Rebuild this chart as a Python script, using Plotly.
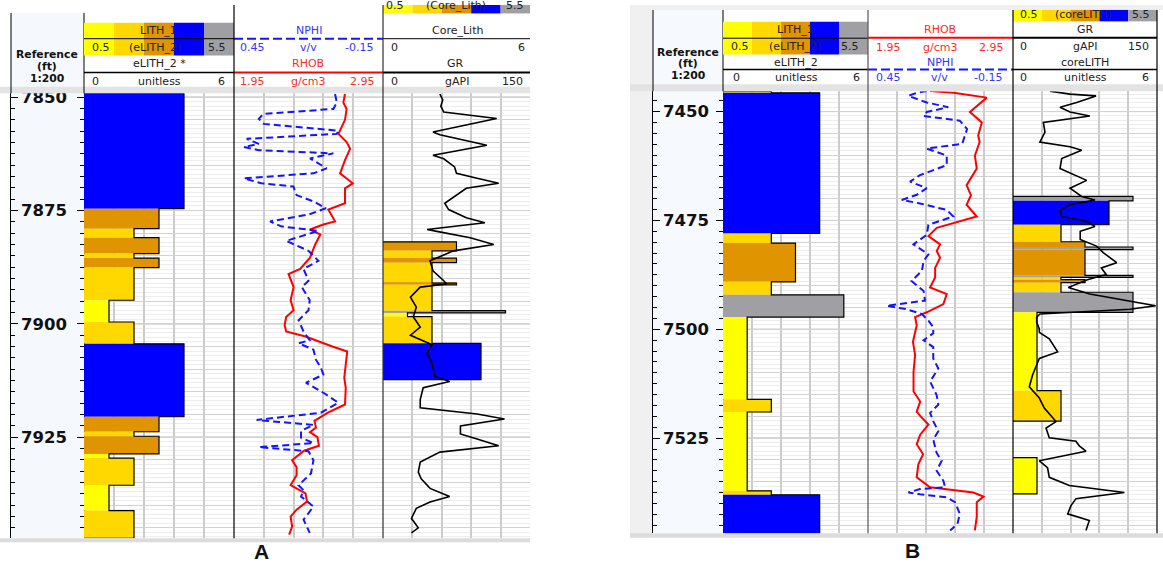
import plotly.graph_objects as go

W, H = 1163, 568

# ---------------- DATA ----------------
lith_codes = [1, 2, 3, 4, 5]
lith_colors = {1: '#ffff00', 2: '#ffd800', 3: '#e09400', 4: '#0000ff', 5: '#a0a0a4'}

# Panel A (depth ft)
A_depth_top, A_depth_base = 7849.13, 7947.3
A_depth_ticks = [7850, 7875, 7900, 7925]

A_elith_tops = [7849.1, 7874.6, 7879.0, 7881.0, 7884.5, 7885.5, 7887.6, 7894.8, 7899.6,
                7904.4, 7920.5, 7923.8, 7924.8, 7928.7, 7929.6, 7935.6, 7941.2]
A_elith_codes = [4, 3, 2, 3, 2, 3, 2, 1, 2, 4, 3, 2, 3, 1, 2, 1, 2]
A_elith_base = 7947.3

A_core_tops = [7881.9, 7883.9, 7885.5, 7886.5, 7891.0, 7891.4, 7897.1, 7897.6, 7898.4, 7904.3]
A_core_bases = [7883.9, 7885.5, 7886.5, 7891.0, 7891.4, 7897.1, 7897.6, 7898.4, 7904.3, 7912.3]
A_core_codes = [3, 2, 3, 2, 3, 2, 5, 1, 2, 4]

A_gr = [(7849.3, 58), (7850.6, 61), (7852.0, 59), (7853.3, 62), (7854.7, 116), (7857.7, 51),
        (7858.3, 58), (7859.9, 92), (7860.6, 106), (7862.8, 51), (7863.6, 62), (7865.4, 73),
        (7866.8, 75), (7867.9, 96), (7869.0, 118), (7870.1, 85), (7873.4, 63), (7874.8, 67),
        (7876.6, 85), (7877.7, 104), (7879.2, 45), (7879.6, 55), (7881.0, 89), (7882.5, 113),
        (7883.9, 72), (7886.1, 48), (7888.3, 51), (7890.5, 62), (7891.2, 65), (7891.9, 38),
        (7894.1, 28), (7896.3, 34), (7898.5, 31), (7900.7, 38), (7902.5, 28), (7904.6, 50),
        (7906.5, 45), (7908.7, 50), (7911.6, 53), (7912.7, 68), (7914.1, 41), (7916.7, 38),
        (7918.5, 38), (7919.9, 96), (7921.0, 124), (7922.5, 79), (7924.3, 79), (7925.4, 96),
        (7926.9, 118), (7928.3, 58), (7930.5, 38), (7932.7, 36), (7934.2, 39), (7936.3, 48),
        (7938.1, 68), (7939.3, 48), (7940.7, 34), (7942.9, 29), (7945.0, 36), (7946.1, 29)]

A_rhob = [(7849.3, 2.695), (7851.2, 2.684), (7852.6, 2.706), (7855.0, 2.695), (7858.1, 2.651),
          (7859.9, 2.706), (7861.4, 2.729), (7863.9, 2.695), (7866.8, 2.662), (7869.0, 2.747),
          (7870.1, 2.695), (7873.4, 2.695), (7874.8, 2.583), (7877.4, 2.628), (7878.1, 2.55),
          (7879.2, 2.46), (7880.3, 2.53), (7882.5, 2.495), (7885.4, 2.46), (7887.9, 2.394),
          (7889.0, 2.316), (7891.9, 2.35), (7894.8, 2.33), (7897.0, 2.35), (7898.5, 2.30),
          (7900.3, 2.29), (7901.7, 2.30), (7902.8, 2.43), (7905.0, 2.61), (7906.1, 2.71),
          (7909.0, 2.70), (7911.9, 2.69), (7914.1, 2.70), (7917.8, 2.695), (7919.6, 2.58),
          (7921.4, 2.49), (7922.9, 2.50), (7923.9, 2.46), (7925.0, 2.51), (7926.9, 2.52),
          (7928.0, 2.42), (7930.1, 2.34), (7931.6, 2.37), (7933.4, 2.37), (7935.6, 2.33),
          (7937.4, 2.43), (7939.2, 2.44), (7941.0, 2.37), (7942.5, 2.33), (7944.7, 2.34),
          (7946.5, 2.32)]

A_nphi = [(7849.3, 0.043), (7851.2, 0.036), (7852.6, 0.05), (7853.7, 0.332), (7854.8, 0.35),
          (7855.9, 0.33), (7857.4, 0.03), (7858.1, 0.036), (7859.2, 0.399), (7860.3, 0.35),
          (7861.0, 0.41), (7861.7, 0.35), (7862.4, 0.05), (7863.5, 0.144), (7865.7, 0.077),
          (7866.8, 0.13), (7867.9, 0.41), (7869.0, 0.34), (7869.7, 0.211), (7871.6, 0.198),
          (7873.0, 0.13), (7874.5, 0.08), (7875.9, 0.15), (7877.4, 0.305), (7878.5, 0.26),
          (7879.5, 0.11), (7881.7, 0.24), (7883.9, 0.15), (7886.1, 0.11), (7887.9, 0.17),
          (7890.5, 0.15), (7891.9, 0.177), (7894.8, 0.145), (7897.0, 0.15), (7899.2, 0.19),
          (7901.7, 0.17), (7903.6, 0.145), (7904.3, 0.19), (7905.7, 0.13), (7907.9, 0.12),
          (7909.7, 0.10), (7911.2, 0.09), (7913.0, 0.16), (7915.2, 0.09), (7917.4, 0.03),
          (7919.6, 0.10), (7921.2, 0.359), (7922.3, 0.13), (7923.6, 0.18), (7925.1, 0.18),
          (7926.3, 0.13), (7927.2, 0.35), (7928.1, 0.15), (7930.1, 0.13), (7933.0, 0.14),
          (7935.6, 0.19), (7936.7, 0.17), (7938.1, 0.18), (7940.3, 0.13), (7943.2, 0.17),
          (7946.1, 0.145)]

# Panel B (depth ft)
B_depth_top, B_depth_base = 7445.33, 7546.86
B_depth_ticks = [7450, 7475, 7500, 7525]

B_elith_tops = [7445.3, 7445.7, 7478.0, 7480.2, 7489.1, 7492.1, 7497.2, 7516.1, 7519.0, 7537.1, 7538.0]
B_elith_codes = [2, 4, 2, 3, 2, 5, 1, 2, 1, 2, 4]
B_elith_base = 7546.9

B_core_tops = [7469.5, 7470.5, 7476.0, 7479.9, 7481.1, 7481.7, 7487.6, 7488.1, 7488.6,
               7489.3, 7491.5, 7496.1, 7514.1, 7529.5]
B_core_bases = [7470.5, 7476.0, 7479.9, 7481.1, 7481.7, 7487.6, 7488.1, 7488.6, 7489.3,
                7491.5, 7496.1, 7514.1, 7521.1, 7537.8]
B_core_codes = [5, 4, 2, 3, 5, 3, 5, 2, 3, 2, 5, 1, 2, 1]

B_gr = [(7445.3, 38.5), (7446.0, 59.4), (7446.4, 86.5), (7447.9, 66.3), (7449.0, 49),
        (7450.1, 59.4), (7451.0, 80), (7452.5, 31.6), (7454.7, 33.3), (7457.0, 28),
        (7458.1, 59.4), (7458.9, 71.5), (7460.8, 50.7), (7463.1, 49), (7465.8, 76.7),
        (7467.6, 59.4), (7469.5, 71.5), (7470.3, 85.4), (7471.4, 59.4), (7472.6, 49),
        (7474.1, 50.7), (7475.2, 76.7), (7476.4, 85.4), (7477.5, 70), (7479.4, 70),
        (7480.9, 87), (7482.4, 94), (7484.7, 108), (7485.9, 92), (7487.4, 97),
        (7488.7, 76.7), (7490.4, 57.6), (7491.9, 80), (7493.4, 118.4), (7494.6, 148.6),
        (7495.4, 121.9), (7496.5, 28), (7497.2, 24.7), (7498.4, 24.7), (7499.9, 27.4),
        (7500.7, 27.4), (7502.2, 37.8), (7503.3, 41.3), (7505.2, 46.5), (7506.7, 27.4),
        (7510.5, 20.4), (7513.2, 17), (7515.8, 27.4), (7518.1, 32.6), (7520.4, 41.3),
        (7521.2, 44.8), (7522.7, 34.4), (7524.9, 37.8), (7525.7, 65.6), (7526.8, 69.1),
        (7528.0, 76), (7530.2, 27.4), (7531.8, 36), (7534.0, 37.8), (7535.9, 58.7),
        (7537.5, 116), (7538.9, 65.6), (7540.5, 60.4), (7542.4, 57), (7543.9, 79.5),
        (7546.2, 76)]

B_rhob = [(7445.3, 2.378), (7445.7, 2.54), (7446.8, 2.769), (7448.7, 2.70), (7450.1, 2.653),
          (7452.5, 2.735), (7455.5, 2.71), (7457.0, 2.72), (7460.1, 2.687), (7463.1, 2.70),
          (7466.9, 2.63), (7469.2, 2.66), (7471.4, 2.63), (7474.1, 2.70), (7475.2, 2.58),
          (7476.7, 2.424), (7478.6, 2.367), (7480.5, 2.447), (7482.0, 2.424), (7483.6, 2.447),
          (7485.9, 2.413), (7488.1, 2.413), (7490.4, 2.378), (7491.9, 2.493), (7494.2, 2.47),
          (7496.1, 2.355), (7497.2, 2.275), (7499.1, 2.286), (7500.7, 2.275), (7502.9, 2.26),
          (7505.9, 2.275), (7509.8, 2.264), (7514.3, 2.264), (7516.6, 2.31), (7518.9, 2.286),
          (7519.9, 2.31), (7521.9, 2.367), (7524.2, 2.31), (7526.4, 2.286), (7528.7, 2.33),
          (7531.0, 2.297), (7534.0, 2.286), (7536.3, 2.378), (7537.5, 2.677), (7538.4, 2.746),
          (7539.7, 2.70), (7543.1, 2.70), (7546.2, 2.687)]

B_nphi = [(7445.3, 0.207), (7445.7, 0.248), (7446.4, 0.283), (7447.9, 0.207), (7449.0, 0.118),
          (7450.1, 0.207), (7451.0, 0.22), (7452.1, 0.07), (7454.0, 0.04), (7457.4, 0.06),
          (7458.5, 0.207), (7460.1, 0.124), (7462.3, 0.124), (7464.6, 0.235), (7466.1, 0.276),
          (7467.6, 0.207), (7469.1, 0.248), (7470.3, 0.31), (7471.1, 0.235), (7472.6, 0.124),
          (7474.1, 0.097), (7476.0, 0.20), (7478.3, 0.207), (7480.5, 0.262), (7482.8, 0.20),
          (7484.3, 0.22), (7486.6, 0.227), (7488.9, 0.27), (7491.2, 0.22), (7493.4, 0.214),
          (7494.6, 0.373), (7495.4, 0.29), (7496.5, 0.227), (7498.0, 0.20), (7499.5, 0.18),
          (7500.9, 0.18), (7502.5, 0.22), (7504.1, 0.18), (7506.7, 0.18), (7509.0, 0.159),
          (7512.0, 0.193), (7515.1, 0.166), (7517.3, 0.159), (7519.2, 0.193), (7521.1, 0.18),
          (7523.4, 0.159), (7525.3, 0.18), (7528.4, 0.166), (7530.2, 0.145), (7532.5, 0.166),
          (7534.8, 0.138), (7536.3, 0.131), (7536.7, 0.235), (7537.5, 0.283), (7537.9, 0.235),
          (7538.6, 0.124), (7539.7, 0.09), (7542.4, 0.07), (7544.7, 0.08), (7546.2, 0.11)]

# ---------------- HELPERS ----------------
def X(p):
    return p / W

def Y(p):
    return 1 - p / H

shapes, annotations = [], []
T_DARK, T_BLUE, T_RED = '#222222', '#3535ff', '#ff2a2a'
FONT = 'DejaVu Sans'


def rect(x0, y0, x1, y1, fill, layer='above'):
    shapes.append(dict(type='rect', xref='paper', yref='paper', x0=X(x0), x1=X(x1),
                       y0=Y(y1), y1=Y(y0), fillcolor=fill, line=dict(width=0), layer=layer))


def seg(x0, y0, x1, y1, color, width=1, dash='solid'):
    shapes.append(dict(type='line', xref='paper', yref='paper', x0=X(x0), y0=Y(y0),
                       x1=X(x1), y1=Y(y1), line=dict(color=color, width=width, dash=dash),
                       layer='above'))


def txt(x, y, s, color=T_DARK, size=11, bold=False, family=FONT):
    annotations.append(dict(xref='paper', yref='paper', x=X(x), y=Y(y), text=s,
                            showarrow=False, xanchor='center', yanchor='middle', borderpad=0,
                            font=dict(family=family, size=size, color=color,
                                      weight='bold' if bold else 'normal')))


def colorbar(x0, x1, y0, y1):
    w = (x1 - x0) / len(lith_codes)
    for i, c in enumerate(lith_codes):
        rect(x0 + i * w, y0, x0 + (i + 1) * w, y1, lith_colors[c])


fig = go.Figure()


def add_lith(tops, bases, codes, xa, ya):
    mids = [(t + b) / 2 for t, b in zip(tops, bases)]
    widths = [b - t for t, b in zip(tops, bases)]
    fig.add_trace(go.Bar(orientation='h', y=mids, x=codes, width=widths, base=0,
                         marker=dict(color=[lith_colors[c] for c in codes], line=dict(width=0)),
                         xaxis=xa, yaxis=ya, hoverinfo='skip'))
    xs, ys = [], []
    for i, (t, b, c) in enumerate(zip(tops, bases, codes)):
        if i == 0 or abs(t - bases[i - 1]) > 1e-6:
            if i > 0:
                xs += [0, None]
                ys += [bases[i - 1], None]
            xs.append(0)
            ys.append(t)
        xs += [c, c]
        ys += [t, b]
    xs.append(0)
    ys.append(bases[-1])
    fig.add_trace(go.Scatter(x=xs, y=ys, mode='lines', line=dict(color='black', width=1.2),
                             xaxis=xa, yaxis=ya, hoverinfo='skip', connectgaps=False))


def add_curve(pairs, xa, ya, color, width, dash='solid'):
    d = [p[0] for p in pairs]
    v = [p[1] for p in pairs]
    fig.add_trace(go.Scatter(x=v, y=d, mode='lines', line=dict(color=color, width=width, dash=dash),
                             xaxis=xa, yaxis=ya, hoverinfo='skip'))


# ---------------- TRACES ----------------
A_elith_bases = A_elith_tops[1:] + [A_elith_base]
B_elith_bases = B_elith_tops[1:] + [B_elith_base]

add_lith(A_elith_tops, A_elith_bases, A_elith_codes, 'x2', 'y4')
add_curve(A_rhob, 'x3', 'y4', '#ff0000', 2)
add_curve(A_nphi, 'x4', 'y4', '#1414ff', 2, '7px,4px')
add_lith(A_core_tops, A_core_bases, A_core_codes, 'x5', 'y4')
add_curve(A_gr, 'x6', 'y4', 'black', 1.6)

add_lith(B_elith_tops, B_elith_bases, B_elith_codes, 'x8', 'y8')
add_curve(B_rhob, 'x9', 'y8', '#ff0000', 2)
add_curve(B_nphi, 'x10', 'y8', '#1414ff', 2, '7px,4px')
add_lith(B_core_tops, B_core_bases, B_core_codes, 'x11', 'y8')
add_curve(B_gr, 'x12', 'y8', 'black', 1.6)

for xa, ya in [('x', 'y'), ('x', 'y2'), ('x', 'y3'), ('x7', 'y5'), ('x7', 'y6'), ('x7', 'y7')]:
    fig.add_trace(go.Scatter(x=[None], y=[None], xaxis=xa, yaxis=ya, hoverinfo='skip'))

# ---------------- AXES ----------------
A_dom = [Y(538), Y(89)]
B_dom = [Y(533), Y(87)]
A_rng = [A_depth_base, A_depth_top]
B_rng = [B_depth_base, B_depth_top]

depth_common = dict(showgrid=False, zeroline=False, ticks='inside', tickcolor='black', ticklen=7,
                    tickwidth=1, dtick=25, tick0=0, showticklabels=False, showline=True,
                    linecolor='black', linewidth=1,
                    minor=dict(ticks='inside', ticklen=4, dtick=2.5, tick0=0,
                               tickcolor='black', showgrid=False))
label_common = dict(showline=False, ticks='', showgrid=False, zeroline=False,
                    tickfont=dict(family=FONT, size=16.5, color='#111111', weight='bold'))
data_y = dict(showticklabels=False, ticks='', showline=False, zeroline=False, showgrid=True,
              gridcolor='#d2d2d2', gridwidth=1, dtick=5, tick0=0,
              minor=dict(dtick=1, tick0=0, showgrid=True, gridcolor='#ededed', gridwidth=1))


def track_x(x0, x1, rng, dtick, tick0, anchor):
    return dict(domain=[X(x0), X(x1)], range=rng, anchor=anchor, showticklabels=False, ticks='',
                showline=False, zeroline=False, showgrid=True, gridcolor='#cccccc', gridwidth=1.5,
                dtick=dtick, tick0=tick0)


def overlay_x(over, rng, anchor):
    return dict(overlaying=over, range=rng, anchor=anchor, visible=False)


layout_axes = dict(
    xaxis=dict(domain=[X(11), X(84)], range=[0, 1], anchor='y', visible=False),
    yaxis=dict(domain=A_dom, range=A_rng, anchor='x', side='left', **depth_common),
    yaxis2=dict(range=A_rng, overlaying='y', anchor='x', side='right', **depth_common),
    yaxis3=dict(range=A_rng, overlaying='y', anchor='free', position=X(20), side='right',
                tickvals=A_depth_ticks, **label_common),
    yaxis4=dict(domain=A_dom, range=A_rng, anchor='x2', **data_y),
    xaxis2=track_x(84, 234, [0, 6], 1.2, 0, 'y4'),
    xaxis3=track_x(234, 383, [1.95, 2.95], 0.2, 1.95, 'y4'),
    xaxis4=overlay_x('x3', [0.45, -0.15], 'y4'),
    xaxis5=track_x(383, 530, [0, 6], 1.2, 0, 'y4'),
    xaxis6=overlay_x('x5', [0, 150], 'y4'),

    xaxis7=dict(domain=[X(653), X(723)], range=[0, 1], anchor='y5', visible=False),
    yaxis5=dict(domain=B_dom, range=B_rng, anchor='x7', side='left', **depth_common),
    yaxis6=dict(range=B_rng, overlaying='y5', anchor='x7', side='right', **depth_common),
    yaxis7=dict(range=B_rng, overlaying='y5', anchor='free', position=X(662), side='right',
                tickvals=B_depth_ticks, **label_common),
    yaxis8=dict(domain=B_dom, range=B_rng, anchor='x8', **data_y),
    xaxis8=track_x(723, 868, [0, 6], 1.2, 0, 'y8'),
    xaxis9=track_x(868, 1013, [1.95, 2.95], 0.2, 1.95, 'y8'),
    xaxis10=overlay_x('x9', [0.45, -0.15], 'y8'),
    xaxis11=track_x(1013, 1157, [0, 6], 1.2, 0, 'y8'),
    xaxis12=overlay_x('x11', [0, 150], 'y8'),
)

# darker 25-ft lines, from the depth tick lists
for ticks, xas, ya in [(A_depth_ticks, ['x2', 'x3', 'x5'], 'y4'),
                       (B_depth_ticks, ['x8', 'x9', 'x11'], 'y8')]:
    for xa in xas:
        for d in ticks:
            shapes.append(dict(type='line', xref=xa + ' domain', yref=ya, x0=0, x1=1, y0=d, y1=d,
                               line=dict(color='#9c9c9c', width=1), layer='below'))

# ---------------- BACKGROUNDS / FRAMES ----------------
rect(11, 8, 84, 538, '#f5f9fe', layer='below')
rect(630, 0, 1163, 5, '#efefef', layer='below')
rect(630, 0, 653, 537, '#f0f0f0', layer='below')
rect(653, 5, 723, 533, '#f6f9fe', layer='below')

# header / data separator bands
rect(0, 82.5, 530, 89, '#e3e3e3')
rect(0, 538, 530, 542, '#dcdcdc')
rect(630, 80, 1163, 87, '#e3e3e3')
rect(630, 533, 1163, 537.5, '#dcdcdc')

# ---------- Panel A header ----------
seg(11, 8, 11, 89, 'black', 1)
seg(84, 8, 84, 89, 'black', 1)
txt(47, 49.5, 'Reference', '#111111', 10.8, True)
txt(47, 62, '(ft)', '#111111', 10.8, True)
txt(47, 74.5, '1:200', '#111111', 10.8, True)

colorbar(84, 234, 18, 51)
txt(158, 26, 'LITH_1')
txt(101, 43, '0.5')
txt(155, 43, '(eLITH_2)')
txt(217, 43, '5.5')
seg(84, 34, 234, 34, 'black', 1)
txt(159, 59, 'eLITH_2 *')
seg(84, 68, 234, 68, 'black', 1.5)
txt(95, 77, '0')
txt(159, 77, 'unitless')
txt(221, 77, '6')

txt(309, 26, 'NPHI', T_BLUE)
seg(234, 34, 383, 34, '#1414ff', 2, '9px,4px')
txt(252, 43, '0.45', T_BLUE)
txt(308, 43, 'v/v', T_BLUE)
txt(359, 43, '-0.15', T_BLUE)
txt(308, 59, 'RHOB', T_RED)
seg(234, 68, 383, 68, '#ff0000', 2)
txt(252, 77, '1.95', T_RED)
txt(308, 77, 'g/cm3', T_RED)
txt(362, 77, '2.95', T_RED)

colorbar(383, 530, 0, 8.5)
txt(395, 0.5, '0.5')
txt(456, 0.5, '(Core_Lith)')
txt(515, 0.5, '5.5')
txt(457, 26, 'Core_Lith')
seg(383, 34, 530, 34, 'black', 1)
txt(394, 43, '0')
txt(521, 43, '6')
txt(455, 59, 'GR')
seg(383, 68, 530, 68, 'black', 2)
txt(394, 77, '0')
txt(457, 77, 'gAPI')
txt(512, 77, '150')

seg(234, 0, 234, 538, 'black', 1.2)
seg(383, 0, 383, 538, '#303030', 1.2)

# ---------- Panel B header ----------
seg(653, 5, 653, 87, 'black', 1)
seg(723, 5, 723, 87, 'black', 1)
txt(688, 47.5, 'Reference', '#111111', 10.8, True)
txt(688, 59.5, '(ft)', '#111111', 10.8, True)
txt(688, 71.5, '1:200', '#111111', 10.8, True)

colorbar(723, 868, 17, 50)
txt(795, 25, 'LITH_1')
txt(740, 42, '0.5')
txt(795, 42, '(eLITH_2)')
txt(850, 42, '5.5')
seg(723, 33.5, 868, 33.5, 'black', 1)
txt(796, 58, 'eLITH_2')
seg(723, 65, 868, 65, 'black', 1.5)
txt(736, 73, '0')
txt(796, 73, 'unitless')
txt(856, 73, '6')

txt(940, 25, 'RHOB', T_RED)
seg(868, 33, 1013, 33, '#ff0000', 2)
txt(888, 43, '1.95', T_RED)
txt(940, 43, 'g/cm3', T_RED)
txt(991, 43, '2.95', T_RED)
txt(940, 58, 'NPHI', T_BLUE)
seg(868, 65, 1013, 65, '#1414ff', 2, '9px,4px')
txt(888, 73, '0.45', T_BLUE)
txt(940, 73, 'v/v', T_BLUE)
txt(988, 73, '-0.15', T_BLUE)

colorbar(1013, 1157, 5, 16.5)
txt(1029, 10, '0.5')
txt(1083, 10, '(coreLITH)')
txt(1141, 10, '5.5')
txt(1085, 25, 'GR')
seg(1013, 33, 1157, 33, 'black', 2)
txt(1023, 42, '0')
txt(1085, 42, 'gAPI')
txt(1138, 42, '150')
txt(1085, 58, 'coreLITH')
seg(1013, 65, 1157, 65, 'black', 1.5)
txt(1023, 73, '0')
txt(1085, 73, 'unitless')
txt(1145, 73, '6')

seg(868, 5, 868, 533, '#555555', 1.2)
seg(1013, 5, 1013, 533, 'black', 1.2)
seg(1157, 5, 1157, 533, 'black', 1.2)

# panel labels
txt(261, 551, 'A', '#111111', 21, True, 'Liberation Sans')
txt(912, 550, 'B', '#111111', 21, True, 'Liberation Sans')

fig.update_layout(width=W, height=H, margin=dict(l=0, r=0, t=0, b=0), paper_bgcolor='white',
                  plot_bgcolor='rgba(0,0,0,0)', showlegend=False, barmode='overlay',
                  hovermode=False, shapes=shapes, annotations=annotations, **layout_axes)

fig.write_html('out.html', config={'displayModeBar': False},
               post_script="document.body.style.margin='0px';document.body.style.overflow='hidden';")
